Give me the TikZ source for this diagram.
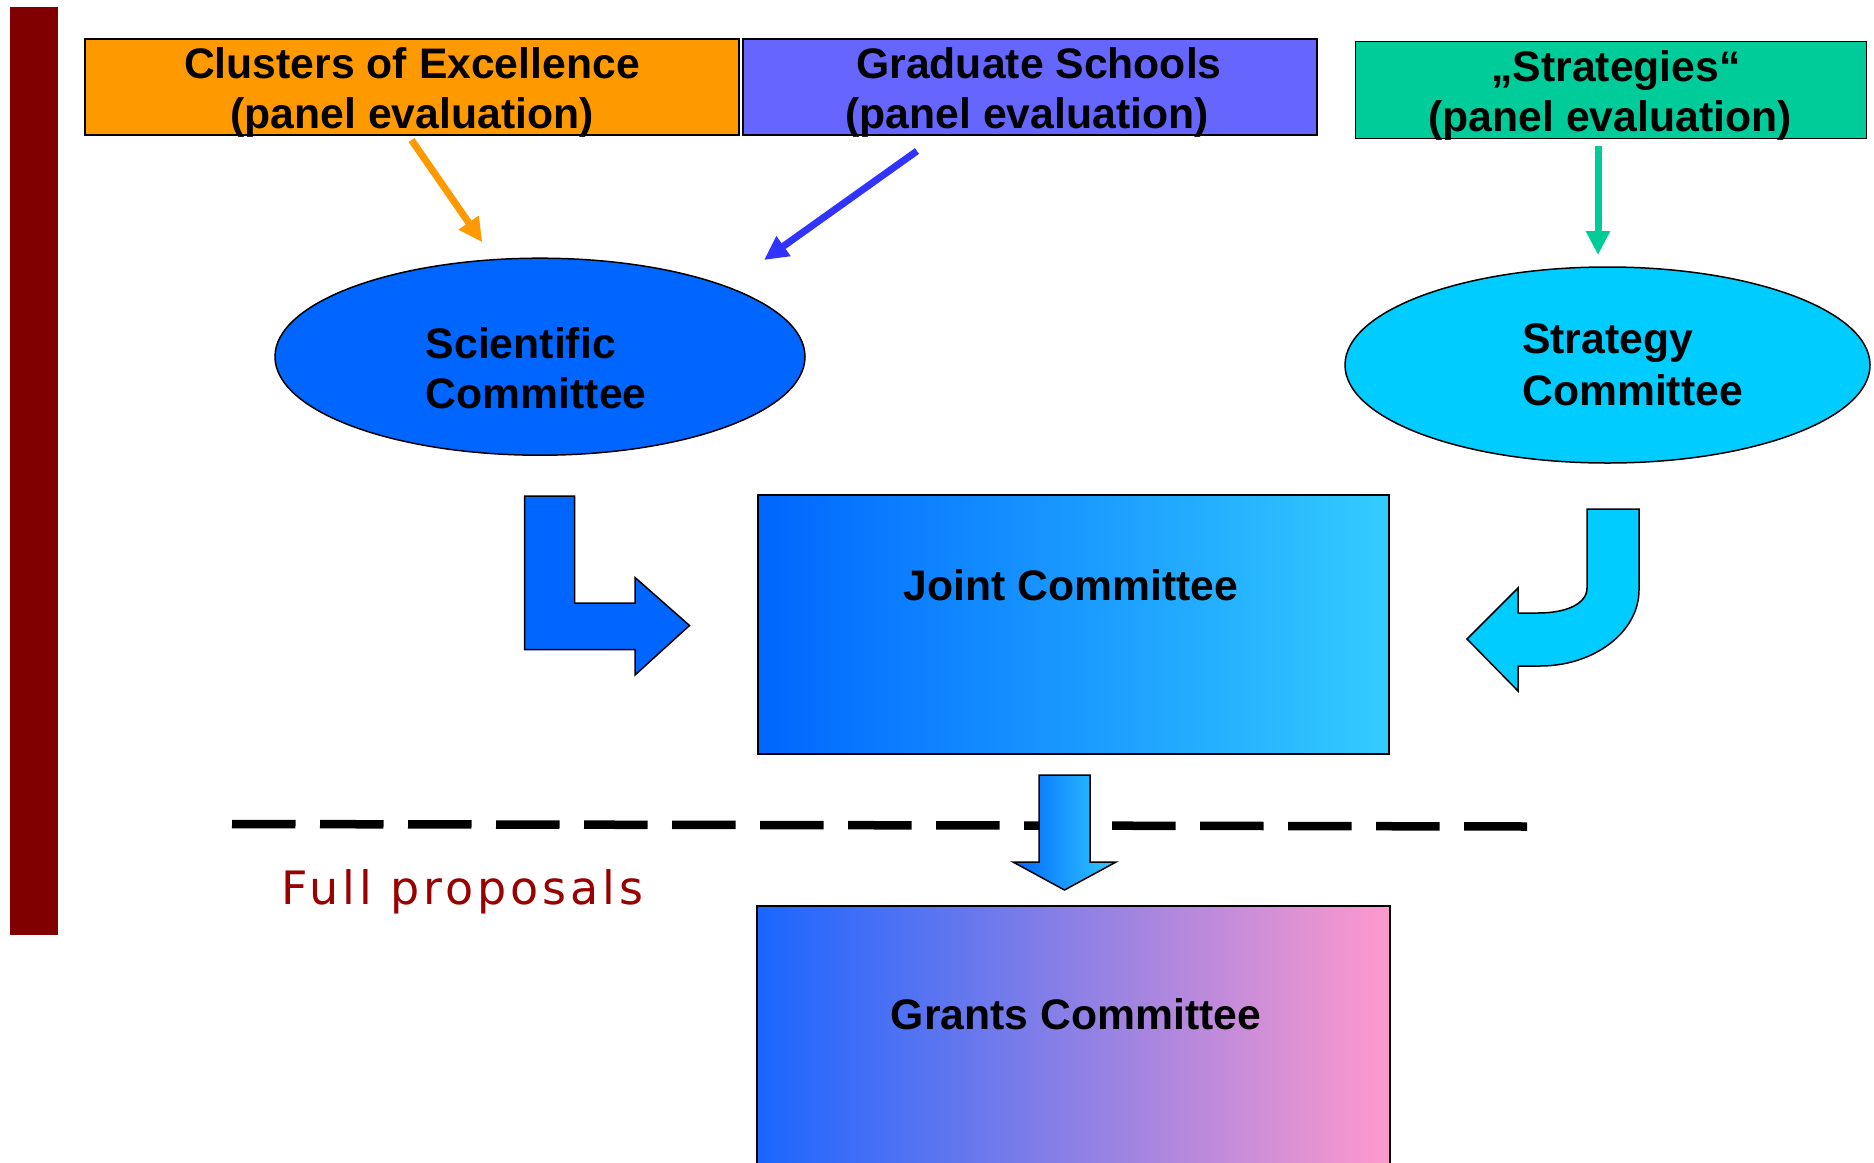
\documentclass[tikz,border=0pt]{standalone}
\usepackage{fontspec}
\setmainfont{Liberation Sans}
\newfontfamily\fpfont{DejaVu Sans}[LetterSpace=8.5]
\usetikzlibrary{arrows.meta,shapes.geometric}
\definecolor{barC}{HTML}{800000}
\definecolor{fpC}{HTML}{990000}
\definecolor{orangeC}{HTML}{FF9900}
\definecolor{violetC}{HTML}{6666FF}
\definecolor{greenC}{HTML}{00CC99}
\definecolor{sciC}{HTML}{0066FF}
\definecolor{stratC}{HTML}{00CCFF}
\definecolor{blueArr}{HTML}{3333FF}
\definecolor{jointL}{HTML}{0066FF}
\definecolor{jointR}{HTML}{33CCFF}
\definecolor{grantsL}{HTML}{1A66FF}
\definecolor{grantsM}{HTML}{B080E8}
\definecolor{grantsR}{HTML}{FF99CC}
\newcommand\bigbold{\fontsize{42.7}{50}\selectfont\bfseries}
\begin{document}
\begin{tikzpicture}[x=1pt,y=-1pt,
  box/.style={draw=black,line width=1.5pt,inner sep=0pt,outer sep=0pt},
  oval/.style={ellipse,draw=black,line width=1.5pt,inner sep=0pt,outer sep=0pt},
  lbl/.style={font=\bigbold,inner sep=0pt,anchor=base},
  lbll/.style={font=\bigbold,inner sep=0pt,anchor=base west},
  conn/.style={line width=7pt,-{Triangle[length=24pt,width=23pt]}},
  blockarrow/.style={draw=black,line width=1.5pt,line join=miter}]
\useasboundingbox (0,0) rectangle (1874,1162);
% side bar
\fill[barC] (9.8,7) rectangle (58.4,935);
% top boxes
\node[box,fill=orangeC,minimum width=654pt,minimum height=96pt] (coe) at (412,87) {};
\node[box,fill=violetC,minimum width=574pt,minimum height=96pt] (gs) at (1030,87) {};
\node[box,fill=greenC,minimum width=511pt,minimum height=96.6pt] (st) at (1611,90) {};
\node[lbl] (coeA) at (412,78) {Clusters of Excellence};
\node[lbl] (coeB) at (412,128) {(panel evaluation)};
\node[lbl] (gsA) at (1039,78) {Graduate Schools};
\node[lbl] (gsB) at (1027,128) {(panel evaluation)};
\node[lbl] (stA) at (1616,81) {„Strategies“};
\node[lbl] (stB) at (1610,131) {(panel evaluation)};
% ellipses
\node[oval,fill=sciC,minimum width=530pt,minimum height=197pt] (sci) at (540,356.7) {};
\node[lbll] (sciA) at (425.7,358) {Scientific};
\node[lbll] (sciB) at (425.7,408) {Committee};
\node[oval,fill=stratC,minimum width=525pt,minimum height=196pt] (stc) at (1607.5,365) {};
\node[lbll] (stcA) at (1522,353) {Strategy};
\node[lbll] (stcB) at (1522,405) {Committee};
% thin arrows
\coordinate (o1) at (411.5,140);
\coordinate (o2) at (482.3,242.3);
\coordinate (b1) at (917,151);
\coordinate (b2) at (764,260);
\coordinate (g1) at (1598,146);
\coordinate (g2) at (1598,255);
\draw[conn,draw=orangeC] (o1) -- (o2);
\draw[conn,draw=blueArr] (b1) -- (b2);
\draw[conn,draw=greenC] (g1) -- (g2);
% joint committee
\node[box,minimum width=631pt,minimum height=259pt,left color=jointL,right color=jointR] (joint) at (1073.4,624.5) {};
\node[lbl] (jointT) at (1071,600) {Joint Committee};
% block arrows
\draw[blockarrow,fill=sciC] (524.5,496) -- (574.5,496) -- (574.5,603) -- (635,603) -- (635,577.5) -- (689.5,625.5) -- (635,675) -- (635,649.5) -- (524.5,649.5) -- cycle;
\draw[blockarrow,fill=stratC] (1587,509) -- (1639,509) -- (1639,590) .. controls (1639,632) and (1594,666) .. (1540,666) -- (1518,666) -- (1518,691) -- (1467,639) -- (1518,588) -- (1518,613) -- (1538,613) .. controls (1566,613) and (1587,604) .. (1587,588) -- cycle;
% dashed separator
\coordinate (dl) at (232,824);
\coordinate (dr) at (1527,826.5);
\draw[line width=8.5pt,dash pattern=on 63.5pt off 24.5pt] (dl) -- (dr);
\draw[blockarrow,left color=jointL,right color=jointR] (1039,775) -- (1090,775) -- (1090,862) -- (1116,862) -- (1064.5,890) -- (1013,862) -- (1039,862) -- cycle;
\node[font=\fpfont\fontsize{46}{50}\selectfont,text=fpC,anchor=base west,inner sep=0pt] (fp) at (281.7,904) {Full proposals};
% grants committee
\node[box,anchor=north,minimum width=633pt,minimum height=270pt,left color=grantsL,middle color=grantsM,right color=grantsR] (grants) at (1073.5,906) {};
\node[lbl] (grantsT) at (1076,1029) {Grants Committee};
\end{tikzpicture}
\end{document}
